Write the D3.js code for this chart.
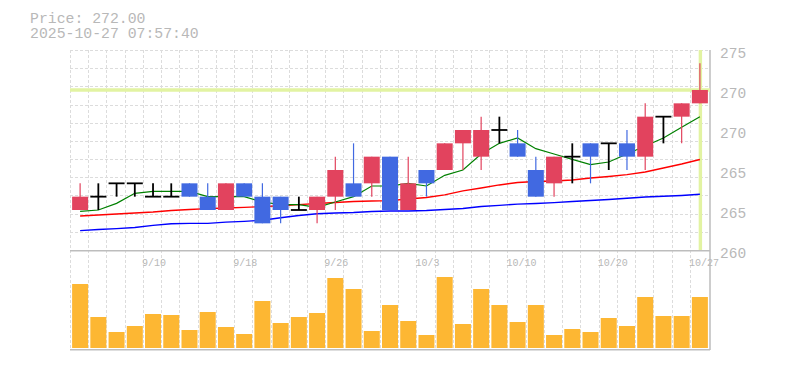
<!DOCTYPE html>
<html>
<head>
<meta charset="utf-8">
<script src="https://cdn.jsdelivr.net/npm/d3@7"></script>
<style>
html,body{margin:0;padding:0;background:#fff;}
svg{display:block;}
text{font-family:"Liberation Mono","DejaVu Sans Mono",monospace;fill:#b8b8b8;}
</style>
</head>
<body>
<svg id="chart" width="785" height="370"></svg>
<script>
// ---- data ----
const dates = ["9/4","9/5","9/8","9/9","9/10","9/11","9/12","9/16","9/17","9/18","9/19","9/22","9/24","9/25","9/26","9/29","9/30","10/1","10/2","10/3","10/6","10/7","10/8","10/9","10/10","10/14","10/15","10/16","10/17","10/20","10/21","10/22","10/23","10/24","10/27"];
const opens  = [263,264,265,265,264,264,265,264,263,265,264,264,263,263,264,265,265,267,263,266,266,268,267,269,268,266,265,267,268,268,268,267,270,270,271];
const highs  = [265,265,265,265,265,265,265,265,265,265,265,264,264,264,267,268,267,267,267,266,268,269,270,270,269,267,267,268,268,268,269,271,270,271,274];
const lows   = [263,263,264,264,264,264,264,263,263,264,262,262,263,262,263,264,264,263,263,264,266,266,266,268,267,264,264,265,265,266,266,266,268,268,271];
const closes = [264,264,265,265,264,264,264,263,265,264,262,263,263,264,266,264,267,263,265,265,268,269,269,269,267,264,267,267,267,268,267,270,270,271,272];
const ma5  = [262.9,263.0,263.5,264.25,264.4,264.4,264.4,264.0,264.0,264.0,263.6,263.4,263.4,263.2,263.6,264.0,264.8,264.8,265.0,264.8,265.6,266.0,267.2,268.0,268.4,267.6,267.2,266.8,266.4,266.6,267.2,267.8,268.4,269.2,270.0];
const ma25 = [262.55,262.63,262.7,262.78,262.85,262.96,263.04,263.1,263.15,263.2,263.25,263.32,263.4,263.49,263.56,263.64,263.68,263.7,263.83,263.94,264.13,264.43,264.65,264.88,265.06,265.14,265.18,265.25,265.4,265.51,265.65,265.85,266.15,266.45,266.79];
const ma75 = [261.45,261.54,261.6,261.69,261.85,261.97,262.0,262.0,262.09,262.15,262.23,262.42,262.59,262.72,262.78,262.81,262.89,262.93,262.93,262.96,263.04,263.11,263.26,263.35,263.44,263.49,263.55,263.64,263.71,263.79,263.88,263.98,264.03,264.09,264.18];
const volumes = [6400,3100,1600,2200,3400,3300,1800,3600,2100,1400,4700,2500,3100,3500,7000,5900,1700,4300,2700,1300,7100,2400,5900,4300,2600,4300,1300,1900,1600,3000,2200,5100,3200,3200,5100];
const xTickDates = ["9/10","9/18","9/26","10/3","10/10","10/20","10/27"];
const yTickValues = [275,272,269,266,263,260];
const yTickLabels = ["275","270","270","265","265","260"];
const lastPrice = 272;
const titleLines = ["Price: 272.00","2025-10-27 07:57:40"];

// ---- scales ----
const svg = d3.select("#chart");
const x = d3.scaleBand().domain(dates).range([71, 709]).padding(0);
const step = x.step();
const cx = d => x(d) + step / 2;
const y = d3.scaleLinear().domain([260, 275]).range([250, 50]);
const yv = d3.scaleLinear().domain([0, 9700]).range([348, 251]);
const gridY = d3.scaleLinear().domain([0, 11]).range([50, 250]);
const bodyW = 16;

// ---- grid ----
const grid = svg.append("g").attr("stroke", "#dcdcdc").attr("stroke-dasharray", "3,2").attr("stroke-width", 1);
grid.selectAll("line.h").data(d3.range(0, 11)).join("line")
  .attr("x1", 70).attr("x2", 710)
  .attr("y1", d => Math.round(gridY(d)) + 0.5).attr("y2", d => Math.round(gridY(d)) + 0.5);
grid.selectAll("line.v").data(dates).join("line")
  .attr("x1", d => Math.round(x(d)) - 0.5).attr("x2", d => Math.round(x(d)) - 0.5)
  .attr("y1", 50).attr("y2", 350);

// ---- frame ----
const frame = svg.append("g").attr("stroke", "#bdbdbd").attr("stroke-width", 1.5);
frame.append("line").attr("x1", 70).attr("x2", 710).attr("y1", 250.7).attr("y2", 250.7);
frame.append("line").attr("x1", 70).attr("x2", 710).attr("y1", 349.7).attr("y2", 349.7);
frame.append("line").attr("x1", 710).attr("x2", 710).attr("y1", 50).attr("y2", 350);

// ---- current price markers ----
const mk = svg.append("g").attr("stroke", "#e2f3a2").attr("stroke-width", 3.4);
mk.append("line").attr("x1", 70).attr("x2", 710).attr("y1", y(lastPrice)).attr("y2", y(lastPrice));
mk.append("line").attr("x1", cx(dates[dates.length - 1]) + 0.5).attr("x2", cx(dates[dates.length - 1]) + 0.5).attr("y1", 50).attr("y2", 250);

// ---- moving averages ----
const line = d3.line().x((d, i) => cx(dates[i])).y(d => y(d));
svg.append("path").datum(ma75).attr("d", line).attr("fill", "none").attr("stroke", "#0000ff").attr("stroke-width", 1.4);
svg.append("path").datum(ma25).attr("d", line).attr("fill", "none").attr("stroke", "#ff0000").attr("stroke-width", 1.4);
svg.append("path").datum(ma5).attr("d", line).attr("fill", "none").attr("stroke", "#008000").attr("stroke-width", 1.2);

// ---- candles ----
const candles = dates.map((d, i) => ({d, o: opens[i], h: highs[i], l: lows[i], c: closes[i]}));
const cg = svg.append("g");
candles.forEach(k => {
  const xc = cx(k.d);
  if (k.o === k.c) {
    cg.append("line").attr("x1", xc).attr("x2", xc).attr("y1", y(k.h)).attr("y2", y(k.l))
      .attr("stroke", "#000").attr("stroke-width", 1.8);
    cg.append("line").attr("x1", xc - bodyW / 2).attr("x2", xc + bodyW / 2).attr("y1", y(k.o)).attr("y2", y(k.o))
      .attr("stroke", "#000").attr("stroke-width", 1.8);
  } else {
    const col = k.c > k.o ? "#e2435e" : "#4169e1";
    cg.append("line").attr("x1", xc).attr("x2", xc).attr("y1", y(k.h)).attr("y2", y(k.l))
      .attr("stroke", col).attr("stroke-width", 1.2);
    cg.append("rect").attr("x", xc - bodyW / 2).attr("width", bodyW)
      .attr("y", y(Math.max(k.o, k.c))).attr("height", y(Math.min(k.o, k.c)) - y(Math.max(k.o, k.c)))
      .attr("fill", col);
  }
});

// ---- volume ----
svg.append("g").selectAll("rect").data(volumes).join("rect")
  .attr("x", (v, i) => cx(dates[i]) - bodyW / 2).attr("width", bodyW)
  .attr("y", v => yv(v)).attr("height", v => yv(0) - yv(v))
  .attr("fill", "#fdb733");

// ---- axes text ----
svg.append("g").selectAll("text").data(yTickValues).join("text")
  .attr("x", 720).attr("y", v => y(v) + 8)
  .attr("font-size", "14.5px")
  .text((v, i) => yTickLabels[i]);

svg.append("g").selectAll("text").data(xTickDates).join("text")
  .attr("x", d => cx(d) - 11).attr("y", 266)
  .attr("font-size", "10px")
  .text(d => d);

svg.append("g").selectAll("text").data(titleLines).join("text")
  .attr("x", 30).attr("y", (d, i) => 23 + i * 14.5)
  .attr("font-size", "14.8px")
  .text(d => d);
</script>
</body>
</html>
